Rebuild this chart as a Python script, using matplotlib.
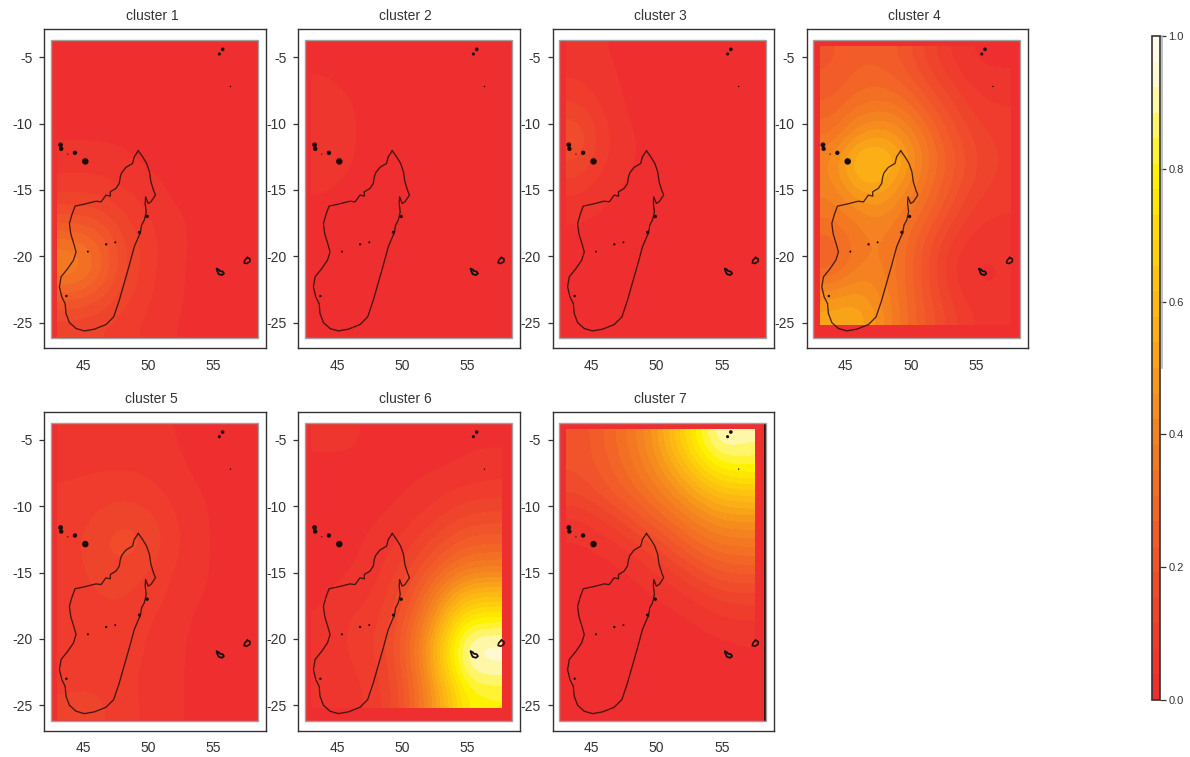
import matplotlib
matplotlib.use('Agg')

import matplotlib.pyplot as plt
from matplotlib.cm import ScalarMappable
from matplotlib.colors import LinearSegmentedColormap, Normalize
from matplotlib.patches import Rectangle
import numpy as np

plt.rcParams['font.family'] = ['Liberation Sans', 'DejaVu Sans']
plt.rcParams['axes.unicode_minus'] = False

# values read by eye, rows north to south, columns west to east
cluster_1 = [
    [.03, .03, .03, .02, .02, .02, .01, .01],
    [.03, .03, .03, .02, .02, .02, .01, .01],
    [.03, .03, .03, .03, .02, .02, .01, .01],
    [.03, .03, .03, .03, .02, .02, .01, .01],
    [.06, .06, .05, .03, .03, .02, .01, .01],
    [.10, .10, .08, .06, .03, .02, .02, .01],
    [.19, .18, .13, .08, .05, .03, .02, .01],
    [.34, .30, .17, .10, .06, .03, .02, .01],
    [.40, .33, .18, .10, .05, .03, .02, .01],
    [.25, .22, .14, .09, .05, .03, .02, .01],
    [.13, .12, .10, .07, .04, .03, .02, .01],
]
cluster_2 = [
    [.03, .03, .03, .02, .02, .02, .01, .01],
    [.04, .03, .03, .02, .02, .02, .01, .01],
    [.07, .04, .03, .02, .02, .02, .01, .01],
    [.08, .04, .03, .02, .02, .02, .01, .01],
    [.06, .04, .03, .02, .02, .02, .01, .01],
    [.04, .03, .03, .02, .02, .02, .01, .01],
    [.03, .03, .02, .02, .02, .02, .01, .01],
    [.03, .03, .02, .02, .02, .02, .01, .01],
    [.03, .03, .02, .02, .02, .02, .01, .01],
    [.03, .03, .02, .02, .02, .02, .01, .01],
    [.03, .03, .02, .02, .02, .02, .01, .01],
]
cluster_3 = [
    [.05, .04, .03, .02, .02, .02, .01, .01],
    [.08, .05, .03, .02, .02, .02, .01, .01],
    [.13, .07, .03, .02, .02, .02, .01, .01],
    [.20, .09, .04, .03, .02, .02, .01, .01],
    [.16, .08, .04, .03, .02, .02, .01, .01],
    [.09, .05, .03, .02, .02, .02, .01, .01],
    [.04, .03, .03, .02, .02, .02, .01, .01],
    [.03, .03, .02, .02, .02, .02, .01, .01],
    [.03, .03, .02, .02, .02, .02, .01, .01],
    [.03, .03, .02, .02, .02, .02, .01, .01],
    [.03, .03, .02, .02, .02, .02, .01, .01],
]
cluster_4 = [
    [.22, .26, .26, .22, .14, .07, .03, .03],
    [.24, .29, .30, .27, .19, .12, .06, .05],
    [.28, .35, .38, .35, .26, .17, .10, .08],
    [.34, .46, .50, .45, .33, .22, .14, .10],
    [.42, .60, .62, .52, .36, .25, .16, .11],
    [.40, .53, .55, .45, .33, .23, .14, .10],
    [.36, .41, .45, .38, .29, .18, .10, .08],
    [.30, .36, .40, .33, .22, .12, .06, .05],
    [.25, .37, .40, .32, .19, .08, .03, .04],
    [.40, .45, .42, .32, .20, .09, .03, .04],
    [.52, .54, .45, .33, .22, .13, .07, .06],
]
cluster_5 = [
    [.06, .06, .05, .05, .04, .03, .02, .02],
    [.07, .07, .07, .07, .05, .03, .02, .02],
    [.08, .09, .10, .09, .07, .04, .03, .02],
    [.09, .12, .15, .14, .09, .05, .03, .02],
    [.10, .14, .18, .16, .10, .05, .03, .02],
    [.09, .13, .14, .12, .08, .05, .03, .02],
    [.09, .11, .12, .10, .07, .04, .03, .02],
    [.08, .10, .10, .08, .06, .03, .02, .02],
    [.08, .09, .09, .08, .05, .03, .02, .02],
    [.10, .11, .09, .07, .05, .03, .02, .02],
    [.13, .13, .10, .07, .05, .03, .02, .02],
]
cluster_6 = [
    [.05, .05, .03, .03, .03, .03, .03, .03],
    [.03, .03, .03, .03, .03, .03, .04, .05],
    [.03, .03, .03, .03, .04, .06, .08, .09],
    [.03, .03, .03, .04, .07, .11, .15, .16],
    [.03, .03, .04, .07, .12, .18, .24, .25],
    [.03, .03, .05, .10, .17, .28, .36, .37],
    [.03, .05, .07, .13, .25, .42, .56, .58],
    [.04, .08, .09, .16, .32, .55, .76, .78],
    [.05, .08, .10, .19, .38, .65, .93, .95],
    [.05, .07, .09, .17, .36, .64, .90, .92],
    [.05, .06, .08, .15, .33, .55, .78, .80],
]
cluster_7 = [
    [.20, .26, .34, .44, .60, .78, .93, .90],
    [.20, .24, .31, .40, .52, .66, .78, .80],
    [.15, .20, .26, .33, .42, .52, .60, .62],
    [.06, .10, .16, .24, .31, .39, .45, .46],
    [.03, .04, .07, .12, .20, .28, .33, .34],
    [.02, .02, .03, .05, .10, .16, .22, .23],
    [.02, .02, .02, .03, .04, .07, .11, .12],
    [.02, .02, .02, .02, .02, .03, .05, .06],
    [.02, .02, .02, .02, .02, .02, .02, .03],
    [.02, .02, .02, .02, .02, .02, .02, .02],
    [.02, .02, .02, .02, .02, .02, .02, .02],
]
clusters = [cluster_1, cluster_2, cluster_3, cluster_4, cluster_5, cluster_6, cluster_7]
titles = ['cluster 1', 'cluster 2', 'cluster 3', 'cluster 4', 'cluster 5', 'cluster 6', 'cluster 7']

x_ticks = [45, 50, 55]
y_ticks = [-5, -10, -15, -20, -25]
bar_ticks = [0.0, 0.2, 0.4, 0.6, 0.8, 1.0]

# coastlines (lon, lat)
madagascar = [
    (49.22, -12.05), (49.55, -12.50), (49.86, -13.00), (50.08, -13.63), (50.19, -14.39),
    (50.39, -15.02), (50.54, -15.39), (50.19, -15.90), (49.98, -16.02), (49.78, -15.52),
    (49.75, -16.02), (49.83, -16.65), (49.68, -17.28), (49.47, -17.66), (49.37, -18.29),
    (49.29, -18.41), (48.91, -19.29), (48.53, -20.67), (48.09, -22.18), (47.76, -23.32),
    (47.33, -24.57), (46.74, -25.15), (45.84, -25.50), (45.08, -25.63), (44.44, -25.45),
    (43.93, -25.00), (43.67, -24.32), (43.60, -23.57), (43.34, -23.06), (43.16, -22.31),
    (43.29, -21.55), (43.80, -20.93), (44.24, -20.30), (44.44, -19.67), (44.26, -19.04),
    (44.06, -18.41), (44.01, -18.16), (43.93, -17.53), (44.11, -16.90), (44.36, -16.22),
    (45.08, -16.07), (45.97, -15.85), (46.36, -15.90), (46.74, -15.39), (47.07, -15.47),
    (47.07, -15.14), (47.50, -14.89), (47.76, -14.51), (47.84, -14.01), (47.94, -13.71),
    (48.27, -13.30), (48.78, -13.00), (48.91, -12.50), (49.22, -12.05),
]
reunion = [(55.25, -20.95), (55.4, -21.0), (55.5, -21.12), (55.7, -21.15), (55.8, -21.3), (55.65, -21.42),
           (55.4, -21.35), (55.3, -21.15), (55.25, -20.95)]
mauritius = [(57.6, -20.1), (57.8, -20.2), (57.8, -20.4), (57.55, -20.55), (57.35, -20.5), (57.4, -20.3), (57.6, -20.1)]
dot_lon = [43.25, 43.3, 44.35, 45.15, 55.7, 55.45, 49.9, 49.3, 43.7, 46.75, 47.45, 45.35, 56.3, 43.8]
dot_lat = [-11.6, -11.9, -12.2, -12.85, -4.4, -4.75, -17.0, -18.2, -23.0, -19.1, -18.95, -19.65, -7.2, -12.3]
dot_size = [12, 10, 10, 22, 7, 5, 6, 5, 3, 3, 2, 2, 1, 0.8]

# colours sampled along the colour bar
bar_values = [0.0, 0.2, 0.4, 0.6, 0.8, 0.88, 0.94, 1.0]
bar_colors = ['#EE2E2F', '#F1532B', '#F58220', '#FDB913', '#FFF200', '#FFF568', '#FFF9C8', '#FFFBE8']
heat = LinearSegmentedColormap.from_list('heat', list(zip(bar_values, bar_colors)), N=26)

W, H = 1190, 757
col_x = [44.3, 298.3, 552.5, 806.7]
row_y = [29.3, 412]
ax_w, ax_h = 221.3, 319
raster = (42.5, 58.4, -26.2, -3.7)
# the field stops short of the map frame, differently per panel
fields = [
    (43.0, 58.3, -26.1, -3.85), (43.0, 58.3, -26.1, -3.85), (43.0, 58.3, -26.1, -3.85),
    (43.0, 57.6, -25.2, -4.2), (43.0, 58.3, -26.1, -3.85), (43.0, 57.6, -25.2, -3.85),
    (43.0, 57.5, -26.1, -4.2),
]
ink = '#333333'
coast = '#2a100c'

fig = plt.figure(figsize=(W / 100, H / 100), dpi=100)

for i, (values, title) in enumerate(zip(clusters, titles)):
    px = col_x[i % 4]
    py = row_y[i // 4]
    ax = fig.add_axes([px / W, 1 - (py + ax_h) / H, ax_w / W, ax_h / H])
    x0, x1, y0, y1 = raster
    ax.add_patch(Rectangle((x0, y0), x1 - x0, y1 - y0, facecolor=heat(0), edgecolor='none', zorder=1))
    ax.imshow(np.array(values), extent=fields[i], origin='upper', aspect='auto', cmap=heat, vmin=0, vmax=1,
              interpolation='bicubic', interpolation_stage='data', zorder=2)
    if i == 6:
        # dark strip on the right edge of the last panel
        ax.axvspan(58.22, 58.4, ymin=(y0 + 26.94) / 24.05, ymax=(y1 + 26.94) / 24.05, color='#2a1210', lw=0, zorder=3)
    ax.add_patch(Rectangle((x0, y0), x1 - x0, y1 - y0, facecolor='none', edgecolor='#a0a0a0', lw=1.0, zorder=3))

    ax.plot(*zip(*madagascar), color=coast, lw=0.95, alpha=0.85, zorder=4)
    ax.plot(*zip(*reunion), color='#111111', lw=1.3, zorder=4)
    ax.plot(*zip(*mauritius), color=coast, lw=1.2, zorder=4)
    ax.scatter(dot_lon, dot_lat, s=dot_size, color='#1a0a08', linewidths=0, zorder=4)

    ax.set_xlim(42.0, 59.0)
    ax.set_ylim(-26.94, -2.89)
    ax.set_xticks(x_ticks)
    ax.set_yticks(y_ticks)
    ax.tick_params(axis='x', length=0, pad=7.5, labelsize=10, labelcolor=ink)
    ax.tick_params(axis='y', length=3.6, width=0.9, color=ink, pad=5, labelsize=10, labelcolor=ink)
    for spine in ax.spines.values():
        spine.set_linewidth(1.0)
        spine.set_color(ink)
    ax.set_title(title, x=0.486, fontsize=10, color=ink, pad=6.5)

cax = fig.add_axes([1151.5 / W, 1 - 700 / H, 8.5 / W, 664 / H])
bar = fig.colorbar(ScalarMappable(Normalize(0, 1), heat), cax=cax, ticks=bar_ticks)
bar.ax.set_yticklabels(['%.1f' % t for t in bar_ticks])
bar.ax.tick_params(length=4, width=0.9, color=ink, pad=2, labelsize=8, labelcolor=ink)
bar.outline.set_linewidth(1.2)
bar.outline.set_edgecolor(ink)
# pale shadow beside the upper half of the bar
cax.plot([1.22, 1.22], [0.5, 1.0], color='#b4b4b4', lw=1.2, clip_on=False, transform=cax.transAxes)

fig.savefig('out.png', dpi=100)
